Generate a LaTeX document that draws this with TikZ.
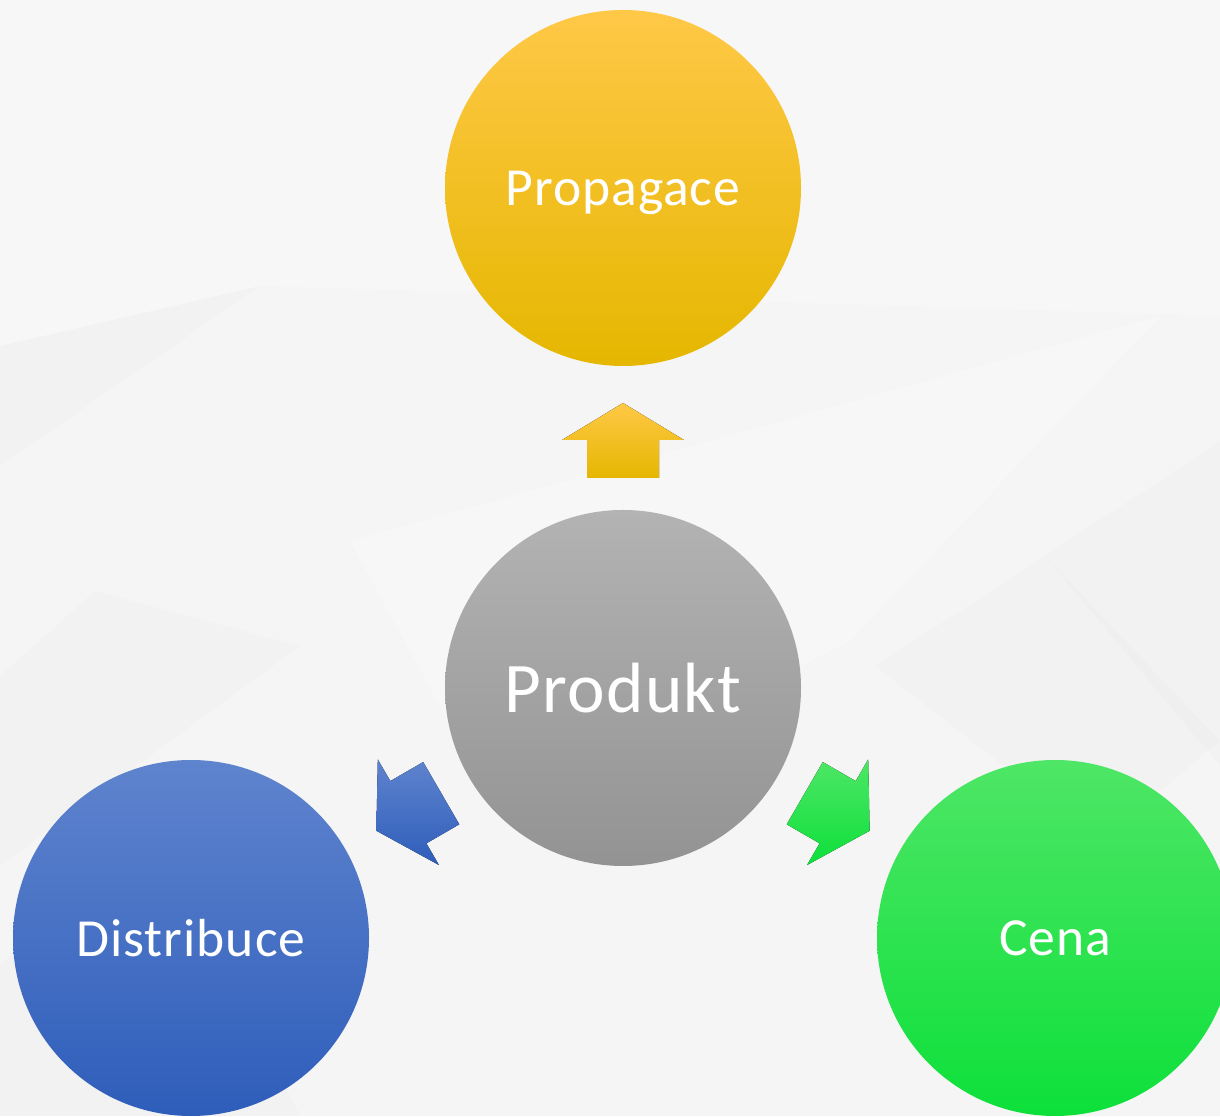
\documentclass[tikz,border=0pt]{standalone}
\usepackage{fontspec}
\setmainfont{Carlito}[LetterSpace=1.8]
\usetikzlibrary{calc}

\definecolor{backgr}{HTML}{F5F5F5}
\definecolor{proptop}{HTML}{FFC847}
\definecolor{propmid}{HTML}{FFC800}
\definecolor{propbot}{HTML}{E5B700}
\definecolor{prodtop}{HTML}{B3B3B3}
\definecolor{prodbot}{HTML}{939393}
\definecolor{disttop}{HTML}{5F84CE}
\definecolor{distbot}{HTML}{2E5DBA}
\definecolor{cenatop}{HTML}{4EE666}
\definecolor{cenabot}{HTML}{0DE03A}

\tikzset{
  bubble/.style={circle, minimum size=7.12cm, inner sep=0pt, text=white, text depth=0pt,
    font=\fontsize{30.5}{36}\selectfont},
  facet/.style={fill=black, fill opacity=0.01},
  glare/.style={fill=white, fill opacity=0.25}
}

\begin{document}
\begin{tikzpicture}
      \useasboundingbox (0,0) rectangle (24.4,22.32);
      \clip (0,0) rectangle (24.4,22.32);
      % background
      \fill [backgr] (0,0) rectangle (24.4,22.32);
      \fill [glare] (0,22.32) -- (24.4,22.32) -- (24.4,16.0) -- (5.2,16.6) -- (0,15.4) -- cycle;
      \fill [glare] (7.0,11.5) -- (23.2,16.0) -- (17.0,9.5) -- (10.0,6.0) -- cycle;
      \fill [facet] (0,15.4) -- (5.2,16.6) -- (0,13.0) -- cycle;
      \fill [facet] (0,8.8) -- (1.9,10.5) -- (6.0,9.4) -- (0,5.0) -- cycle;
      \fill [facet] (0,0) -- (0,3.0) -- (3.0,6.0) -- (6.0,0) -- cycle;
      \fill [facet] (20.9,11.2) -- (24.4,13.5) -- (24.4,7.0) -- cycle;
      \fill [facet] (17.5,9.0) -- (20.9,11.2) -- (24.4,7.5) -- (22.0,5.5) -- cycle;

      % circles
      \node [bubble, top color=prodtop, bottom color=prodbot, font=\fontsize{40.5}{48}\selectfont] (prod) at (12.46,8.56) {Produkt};
      \node [bubble, top color=proptop, middle color=propmid, bottom color=propbot] (prop) at (12.46,18.56) {Propagace};
      \node [bubble, top color=disttop, bottom color=distbot] (dist) at (3.82,3.56) {Distribuce};
      \node [bubble, top color=cenatop, bottom color=cenabot] (cena) at (21.1,3.56) {Cena};

      % block arrows
      \foreach \t in {prop, dist, cena} {
        \coordinate (r) at ($(prod)!4.2cm!(\t)$);
        \coordinate (b) at ($(prod)!4.96cm!(\t)$);
        \coordinate (h) at ($(prod)!5.7cm!(\t)$);
        \fill [top color=\t top, bottom color=\t bot]
          ($(r)!0.72cm!90:(h)$) -- ($(b)!0.72cm!90:(h)$) -- ($(b)!1.22cm!90:(h)$) -- (h)
          -- ($(b)!1.22cm!-90:(h)$) -- ($(b)!0.72cm!-90:(h)$) -- ($(r)!0.72cm!-90:(h)$) -- cycle;
      }
\end{tikzpicture}
\end{document}
